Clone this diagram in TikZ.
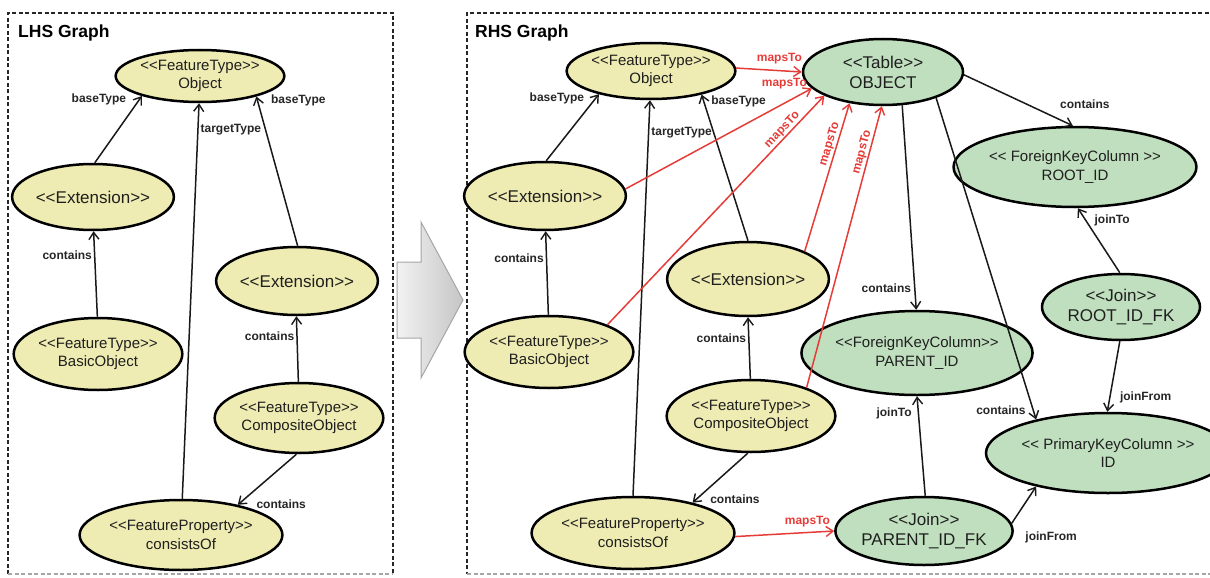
\documentclass[tikz,border=0pt]{standalone}
\usepackage{fontspec}
\newfontfamily\lib{Liberation Sans}
\usetikzlibrary{shapes.geometric,arrows.meta}
\definecolor{featfill}{RGB}{238,236,178}
\definecolor{tabfill}{RGB}{192,223,190}
\definecolor{mapred}{RGB}{230,60,56}
\begin{document}
\begin{tikzpicture}[x=1pt,y=-1pt,
  ent/.style={ellipse, draw=black, line width=2.5pt, inner sep=0pt, align=center,
    text=black!88, font=\lib\fontsize{15pt}{18.5pt}\selectfont},
  ytype/.style={ent, fill=featfill},
  gtype/.style={ent, fill=tabfill},
  big/.style={font=\lib\fontsize{17pt}{20pt}\selectfont},
  lbl/.style={font=\lib\bfseries\fontsize{12pt}{14pt}\selectfont, inner sep=1pt, text=black!85},
  mlbl/.style={lbl, text=mapred, inner sep=0pt},
  edge/.style={draw=black!90, line width=1.5pt,
    -{Straight Barb[length=7pt,width=10pt,line width=1.4pt]}},
  mapedge/.style={edge, draw=mapred},
  dashbox/.style={draw=black!85, line width=1.6pt, dash pattern=on 4pt off 2.5pt},
  title/.style={font=\lib\bfseries\fontsize{17.5pt}{20pt}\selectfont, anchor=west, inner sep=0pt}]

\useasboundingbox (0,0) rectangle (1210,578);
\fill[white] (0,0) rectangle (1210,578);

% frames of the two graphs
\draw[dashbox] (8,574) -- (8,13) -- (393,13) -- (393,574);
\draw[dashbox, draw=black!35] (8,574) -- (393,574);
\draw[dashbox] (1215,13) -- (467,13) -- (467,574);
\draw[dashbox, draw=black!35] (467,574) -- (1215,574);
\node[title] (lhsT) at (18,33) {LHS Graph};
\node[title] (rhsT) at (475,33) {RHS Graph};

% transformation arrow
\shade[left color=gray!10, right color=gray!45, draw=gray!70, line width=1pt]
  (397,262) -- (421,262) -- (421,222) -- (463,300) -- (421,378) -- (421,338) -- (397,338) -- cycle;

% ---------- left-hand graph ----------
\node[ytype, minimum width=150pt, minimum height=52pt] (lObj) at (200,76)
  {<<FeatureType>>\\Object};
\node[ytype, big, minimum width=150pt, minimum height=66pt] (lExt1) at (93,197) {<<Extension>>};
\node[ytype, big, minimum width=150pt, minimum height=68pt] (lExt2) at (297,281) {<<Extension>>};
\node[ytype, minimum width=150pt, minimum height=72pt] (lBasic) at (98,354)
  {<<FeatureType>>\\BasicObject};
\node[ytype, minimum width=152pt, minimum height=70pt] (lComp) at (299,418)
  {<<FeatureType>>\\CompositeObject};
\node[ytype, minimum width=150pt, minimum height=70pt] (lProp) at (181,535)
  {<<FeatureProperty>>\\consistsOf};

\draw[edge] (lExt1.87) -- (lObj.199)
  node[lbl, at end, anchor=east, xshift=-14pt, yshift=-3pt] {baseType};
\draw[edge] (lProp.88) -- (lObj.268)
  node[lbl, pos=0.932, anchor=west, xshift=1pt] {targetType};
\draw[edge] (lExt2.89) -- (lObj.340)
  node[lbl, at end, anchor=west, xshift=13pt, yshift=-4pt] {baseType};
\draw[edge] (lBasic.91) -- (lExt1.271)
  node[lbl, pos=0.72, anchor=east, xshift=-1pt] {contains};
\draw[edge] (lComp.91) -- (lExt2.269)
  node[lbl, pos=0.69, anchor=east, xshift=-1pt] {contains};
\draw[edge] (lComp.266) -- (lProp.28)
  node[lbl, at end, anchor=west, xshift=17pt, yshift=1pt] {contains};

% ---------- right-hand graph ----------
\node[ytype, minimum width=152pt, minimum height=56pt] (rObj) at (651,71)
  {<<FeatureType>>\\Object};
\node[ytype, big, minimum width=154pt, minimum height=68pt] (rExt1) at (545,196) {<<Extension>>};
\node[ytype, big, minimum width=150pt, minimum height=74pt] (rExt2) at (748,279) {<<Extension>>};
\node[ytype, minimum width=152pt, minimum height=72pt] (rBasic) at (549,352)
  {<<FeatureType>>\\BasicObject};
\node[ytype, minimum width=152pt, minimum height=72pt] (rComp) at (751,416)
  {<<FeatureType>>\\CompositeObject};
\node[ytype, minimum width=152pt, minimum height=72pt] (rProp) at (633,533)
  {<<FeatureProperty>>\\consistsOf};

\node[gtype, big, minimum width=160pt, minimum height=66pt] (tObj) at (883,72)
  {<<Table>>\\OBJECT};
\node[gtype, minimum width=194pt, minimum height=80pt] (fkRoot) at (1075,167)
  {<< ForeignKeyColumn >>\\ROOT\_ID};
\node[gtype, big, minimum width=158pt, minimum height=66pt] (jRoot) at (1121,307)
  {<<Join>>\\ROOT\_ID\_FK};
\node[gtype, minimum width=180pt, minimum height=84pt] (fkParent) at (917,353)
  {<<ForeignKeyColumn>>\\PARENT\_ID};
\node[gtype, minimum width=186pt, minimum height=80pt] (pkId) at (1108,453)
  {<< PrimaryKeyColumn >>\\ID};
\node[gtype, big, minimum width=156pt, minimum height=68pt] (jParent) at (924,531)
  {<<Join>>\\PARENT\_ID\_FK};

% structure of the feature types
\draw[edge] (rExt1.88) -- (rObj.204)
  node[lbl, at end, anchor=east, xshift=-13pt, yshift=-4pt] {baseType};
\draw[edge] (rProp.90) -- (rObj.268)
  node[lbl, pos=0.919, anchor=west, xshift=1pt] {targetType};
\draw[edge] (rExt2.90) -- (rObj.335)
  node[lbl, at end, anchor=west, xshift=8pt, yshift=-7pt] {baseType};
\draw[edge] (rBasic.91) -- (rExt1.271)
  node[lbl, pos=0.68, anchor=east, xshift=-1pt] {contains};
\draw[edge] (rComp.91) -- (rExt2.270)
  node[lbl, pos=0.66, anchor=east, xshift=-1pt] {contains};
\draw[edge] (rComp.265) -- (rProp.27)
  node[lbl, at end, anchor=west, xshift=16pt, yshift=3pt] {contains};

% structure of the table
\draw[edge] (tObj.358) -- (fkRoot.93)
  node[lbl, at end, anchor=south, xshift=12pt, yshift=15pt] {contains};
\draw[edge] (tObj.300) -- (fkParent.91)
  node[lbl, pos=0.893, anchor=east, xshift=-2pt] {contains};
\draw[edge] (tObj.334) -- (pkId.155)
  node[lbl, pos=0.972, anchor=east, xshift=-6pt] {contains};
\draw[edge] (jRoot.92) -- (fkRoot.274)
  node[lbl, at end, anchor=west, xshift=15pt, yshift=-12pt] {joinTo};
\draw[edge] (jRoot.268) -- (pkId.91)
  node[lbl, at end, anchor=west, xshift=11pt, yshift=14pt] {joinFrom};
\draw[edge] (jParent.88) -- (fkParent.270)
  node[lbl, pos=0.83, anchor=east, xshift=-5pt] {joinTo};
\draw[edge] (jParent.5) -- (pkId.205)
  node[lbl, at start, anchor=west, xshift=12pt, yshift=-14pt] {joinFrom};

% mappings from the feature types to the table
\draw[mapedge] (rObj.2) -- (tObj.180)
  node[mlbl, at end, anchor=south east, xshift=1pt, yshift=7pt] {mapsTo};
\draw[mapedge] (rExt1.5) -- (tObj.193)
  node[mlbl, at end, anchor=south east, xshift=-4pt, yshift=-1pt] {mapsTo};
\draw[mapedge] (rBasic.25) -- (tObj.202)
  node[mlbl, pos=0.83, sloped, above, yshift=1pt] {mapsTo};
\draw[mapedge] (rExt2.26) -- (tObj.223)
  node[mlbl, pos=0.71, sloped, above, yshift=1pt] {mapsTo};
\draw[mapedge] (rComp.27) -- (tObj.268)
  node[mlbl, pos=0.83, sloped, above, yshift=1pt] {mapsTo};
\draw[mapedge] (rProp.358) -- (jParent.180)
  node[mlbl, pos=0.73, above, yshift=5pt] {mapsTo};

\end{tikzpicture}
\end{document}
